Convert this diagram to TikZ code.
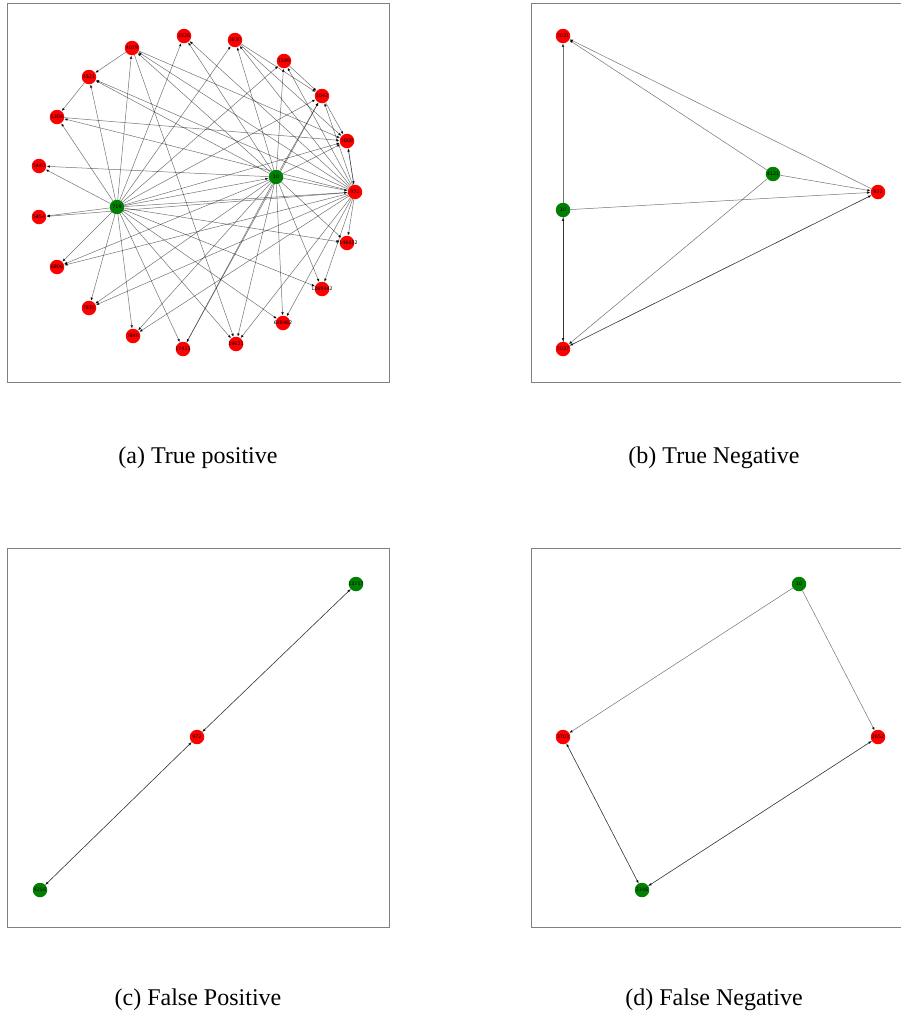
\documentclass[tikz,border=0pt]{standalone}
\usepackage{fontspec}
\setmainfont{Liberation Serif}
\newfontfamily\lblfont{DejaVu Sans}
\usetikzlibrary{arrows.meta}
\pgfdeclarelayer{bg}
\pgfsetlayers{bg,main}
\definecolor{nred}{RGB}{255,0,0}
\definecolor{ngreen}{RGB}{0,128,0}
\definecolor{framegray}{RGB}{128,128,128}
\begin{document}
\begin{tikzpicture}[x=1pt,y=-1pt,
  lbl/.style={inner sep=0pt,text=black,font=\lblfont\fontsize{4.8}{5}\selectfont},
  rn/.style={circle,fill=nred,minimum size=14.5pt,inner sep=0pt,label={[lbl]center:#1}},
  gn/.style={rn=#1,fill=ngreen},
  ed/.style={draw=black,draw opacity=0.55,line width=0.5pt,-{Latex[length=3.4pt,width=2.8pt]}},
  frame/.style={draw=framegray,line width=1pt},
  captxt/.style={font=\fontsize{24}{28}\selectfont}]
\clip (0,0) rectangle (901,1017);
% frames
\draw[frame] (7,3) rectangle (389,382);
\draw[frame] (531,3) rectangle (910,382);
\draw[frame] (7,548) rectangle (389,927);
\draw[frame] (531,548) rectangle (910,927);
% captions
\node[captxt] (capa) at (198,458) {(a) True positive};
\node[captxt] (capb) at (714,458) {(b) True Negative};
\node[captxt] (capc) at (198,1000) {(c) False Positive};
\node[captxt] (capd) at (714,1000) {(d) False Negative};
% panel a nodes
\node[rn=3326] (a3326) at (184,36) {};
\node[rn=4079] (a4079) at (132,48) {};
\node[rn=4521] (a4521) at (89,77) {};
\node[rn=5304] (a5304) at (57,117) {};
\node[rn=5440] (a5440) at (39,166) {};
\node[rn=5454] (a5454) at (39,217) {};
\node[rn=6806] (a6806) at (57,267) {};
\node[rn=7835] (a7835) at (89,308) {};
\node[rn=7846] (a7846) at (133,336) {};
\node[rn=17411] (a17411) at (183,349) {};
\node[rn=19621] (a19621) at (236,344) {};
\node[rn=648462] (a648462) at (283,323) {};
\node[rn=1269442] (a1269442) at (322,289) {};
\node[rn=7146652] (a7146652) at (347,243) {};
\node[rn=972] (a972) at (355,192) {};
\node[rn=1008] (a1008) at (347,141) {};
\node[rn=1042] (a1042) at (322,96) {};
\node[rn=1599] (a1599) at (284,61) {};
\node[rn=3030] (a3030) at (235,40) {};
\node[gn=10] (a10) at (276,177) {};
\node[gn=719] (a719) at (117,207) {};
% panel b nodes
\node[rn=3031] (b3031) at (563,36) {};
\node[gn=10] (b10) at (563,210) {};
\node[rn=5037] (b5037) at (563,349) {};
\node[gn=4121] (b4121) at (773,174) {};
\node[rn=972] (b972) at (878,192) {};
% panel c nodes
\node[gn=13757] (c13757) at (356,584) {};
\node[rn=972] (c972) at (197,737) {};
\node[gn=4256] (c4256) at (40,890) {};
% panel d nodes
\node[gn=10] (d10) at (799,584) {};
\node[rn=3703] (d3703) at (563,737) {};
\node[rn=2652] (d2652) at (878,737) {};
\node[gn=3346] (d3346) at (642,890) {};
\begin{pgfonlayer}{bg}
\foreach \t in {3326,4079,4521,5304,5440,5454,6806,7835,7846,17411,19621,648462,1269442,7146652,972,1008,1042,3030,1599,10}
  \draw[ed] (a719) -- (a\t);
\foreach \t in {3326,4079,4521,5440,6806,7835,7846,17411,19621,648462,1269442,7146652,972,1008,1042,1599,3030}
  \draw[ed] (a10) -- (a\t);
\foreach \t in {3326,4079,4521,5304,5454,6806,7835,7846,19621,648462,1269442,7146652,1008,1042,1599,3030}
  \draw[ed] (a972) -- (a\t);
\foreach \s/\t in {4079/4521,4521/5304,4079/19621,1599/1042,3030/1042,1042/1008,1008/972,5304/1008,17411/1042,4079/1008,3030/1008}
  \draw[ed] (a\s) -- (a\t);
% panel b edges
\foreach \s/\t in {10/3031,10/5037,5037/10,4121/3031,972/3031,4121/972,10/972,4121/5037,972/5037,5037/972}
  \draw[ed] (b\s) -- (b\t);
% panel c edges
\foreach \s/\t in {13757/972,972/13757,972/4256,4256/972}
  \draw[ed] (c\s) -- (c\t);
% panel d edges
\foreach \s/\t in {10/3703,10/2652,3703/3346,3346/3703,2652/3346,3346/2652}
  \draw[ed] (d\s) -- (d\t);
\end{pgfonlayer}
\end{tikzpicture}
\end{document}
